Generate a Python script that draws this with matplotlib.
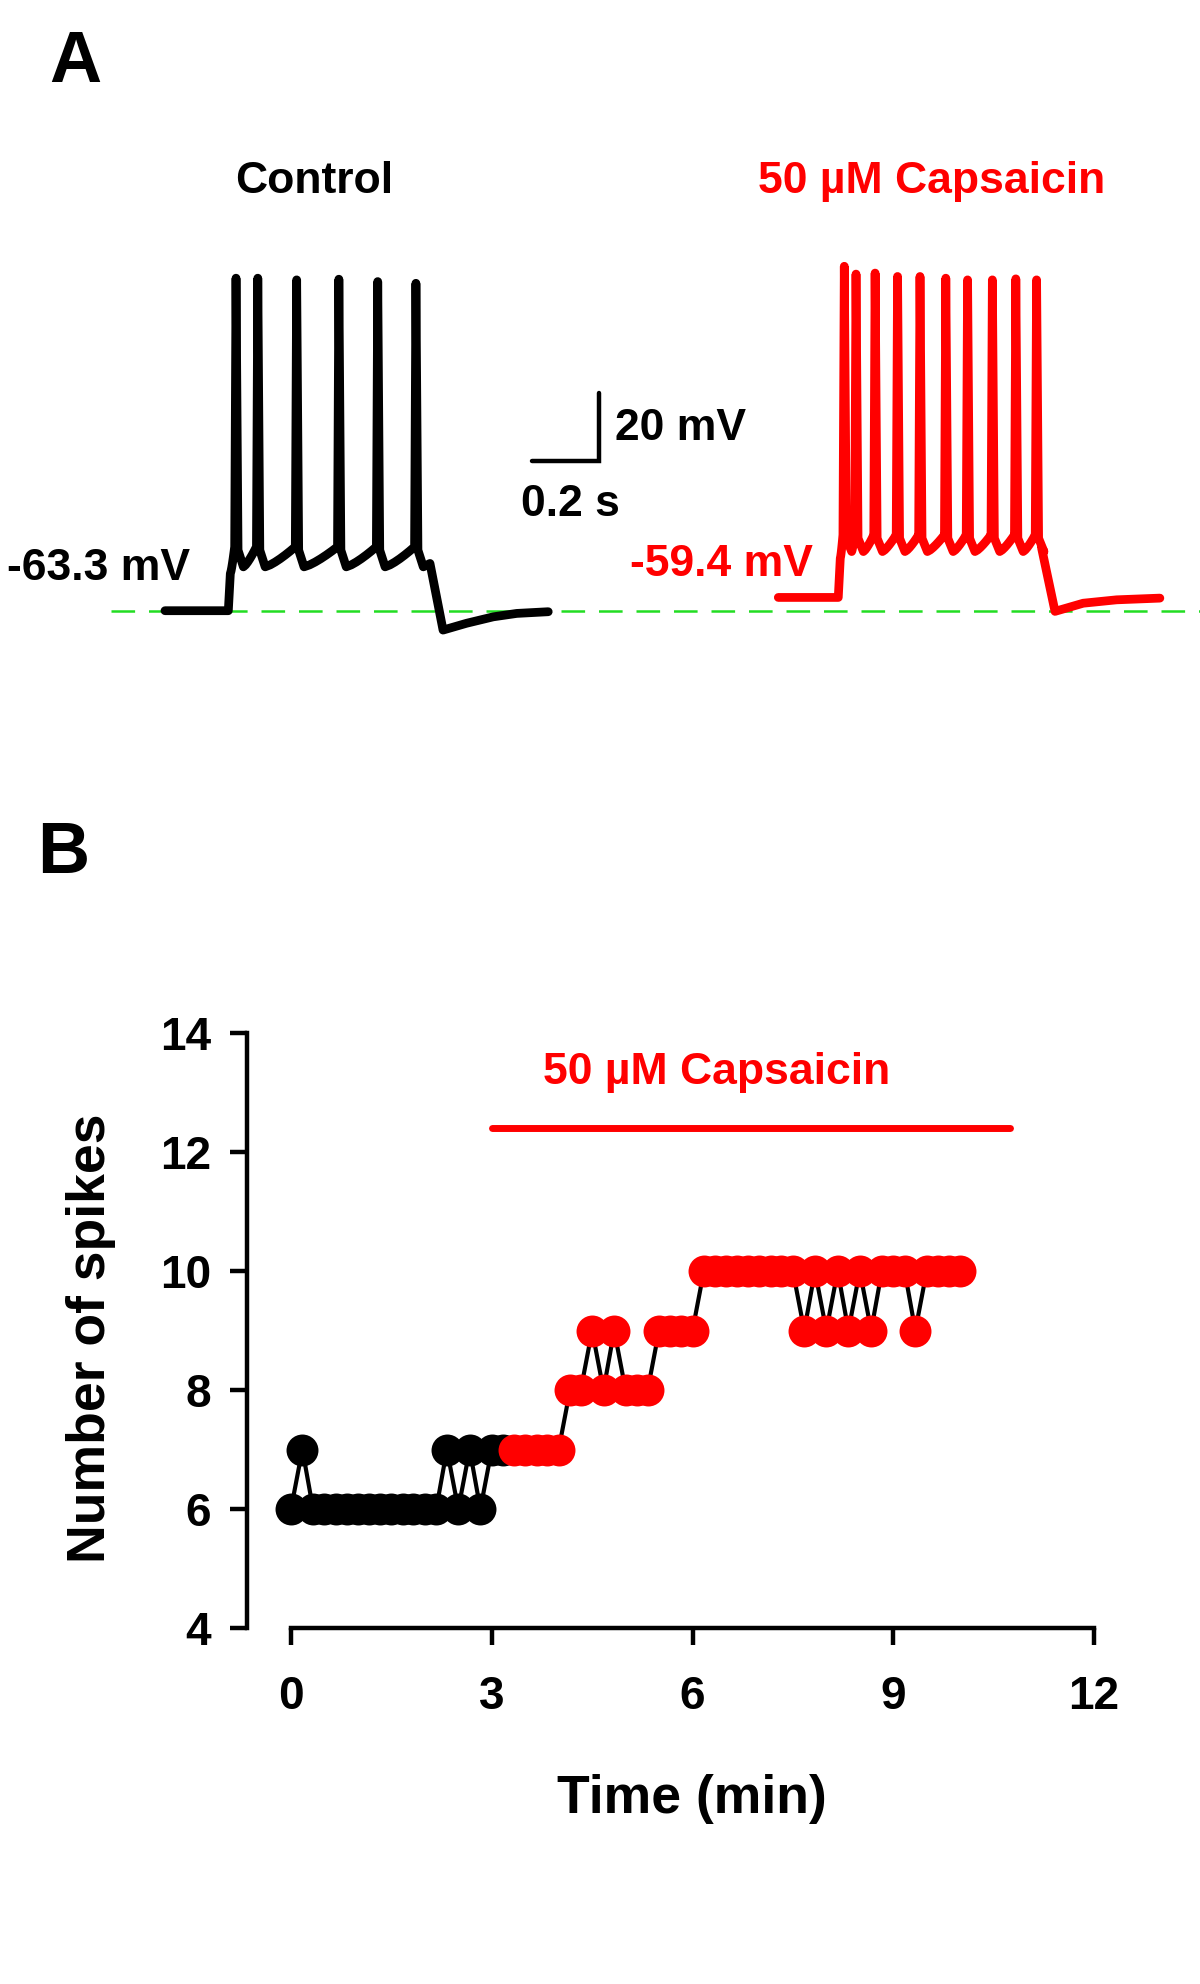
import numpy as np
import matplotlib
matplotlib.use("Agg")
import matplotlib.pyplot as plt

plt.rcParams['font.family'] = ['Liberation Sans', 'DejaVu Sans']
plt.rcParams['font.weight'] = 'bold'
plt.rcParams['lines.scale_dashes'] = False

## Datos panel A (trazas de voltaje, tiempo en s desde el inicio de cada traza, mV)
ctrl_rest = -63.3
ctrl_on, ctrl_off = 0.189, 0.791
ctrl_spike_t = [0.212, 0.277, 0.393, 0.519, 0.635, 0.749]
ctrl_spike_v = [34.5, 34.5, 34.0, 34.2, 33.5, 33.0]
ctrl_ahp, ctrl_top = -50.4, -44.5
ctrl_tail_t = [0.83, 0.90, 0.98, 1.05, 1.144]
ctrl_tail_v = [-69.0, -67.0, -65.1, -64.1, -63.6]

caps_rest = -59.4
caps_on, caps_off = 0.179, 0.786
caps_spike_t = [0.197, 0.232, 0.289, 0.356, 0.423, 0.500, 0.565, 0.639, 0.709, 0.771]
caps_spike_v = [38.0, 35.7, 36.0, 35.0, 35.0, 34.5, 34.0, 34.0, 34.3, 34.0]
caps_ahp, caps_top = -45.9, -41.0
caps_tail_t = [0.826, 0.91, 1.01, 1.139]
caps_tail_v = [-63.5, -61.1, -60.1, -59.6]

## Datos panel B (numero de spikes vs tiempo)
ctrl_time = [0, 0.17, 0.33, 0.5, 0.67, 0.83, 1.0, 1.17, 1.33, 1.5,
             1.67, 1.83, 2.0, 2.17, 2.33, 2.5, 2.67, 2.83, 3.0, 3.17]
ctrl_spikes = [6, 7, 6, 6, 6, 6, 6, 6, 6, 6,
               6, 6, 6, 6, 7, 6, 7, 6, 7, 7]
caps_time = [3.33, 3.5, 3.67, 3.83, 4.0, 4.17, 4.33, 4.5, 4.67, 4.83,
             5.0, 5.17, 5.33, 5.5, 5.67, 5.83, 6.0, 6.17, 6.33, 6.5,
             6.67, 6.83, 7.0, 7.17, 7.33, 7.5, 7.67, 7.83, 8.0, 8.17,
             8.33, 8.5, 8.67, 8.83, 9.0, 9.17, 9.33, 9.5, 9.67, 9.83, 10.0]
caps_spikes = [7, 7, 7, 7, 7, 8, 8, 9, 8, 9,
               8, 8, 8, 9, 9, 9, 9, 10, 10, 10,
               10, 10, 10, 10, 10, 10, 9, 10, 9, 10,
               9, 10, 9, 10, 10, 10, 9, 10, 10, 10, 10]
drug_bar = [3.0, 10.75]
drug_bar_y = 12.4
x_ticks = [0, 3, 6, 9, 12]
y_ticks = [4, 6, 8, 10, 12, 14]

W, H = 1200, 1984


def fx(px):
    return px / W


def fy(py):
    return 1 - py / H


def build_trace(rest, t_on, t_off, spikes, peaks, ahp, top, tail_t, tail_v):
    ts = [0.0, t_on, t_on + 0.006]
    vs = [rest, rest, ahp - 2]
    prev_t, prev_v = t_on + 0.006, ahp - 2
    for s, p in zip(spikes, peaks):
        # rampa lenta hasta el umbral
        if s - 0.004 > prev_t:
            seg = np.linspace(prev_t, s - 0.004, 7)[1:]
            frac = (seg - prev_t) / (s - 0.004 - prev_t)
            ts.extend(seg)
            vs.extend(prev_v + (top - prev_v) * frac ** 1.3)
        ts += [s, s + 0.006, s + 0.022]
        vs += [p, top - 1, ahp]
        prev_t, prev_v = s + 0.022, ahp
    ts += [t_off]
    vs += [ahp + 1]
    ts += list(tail_t)
    vs += list(tail_v)
    return np.array(ts), np.array(vs)


fig = plt.figure(figsize=(12, 19.84), dpi=100)

# Panel A: 335 px/s, 3.4 px/mV, -63.3 mV en y=610.7 px
px_s, px_mv, y_ref = 335.0, 3.4, 610.7
ax_a = fig.add_axes([0, fy(760), 1, 760 / H])
ax_a.set_xlim(0, W / px_s)
ax_a.set_ylim(ctrl_rest - (760 - y_ref) / px_mv, ctrl_rest + y_ref / px_mv)
ax_a.axis('off')

ax_a.plot([111 / px_s, W / px_s], [ctrl_rest, ctrl_rest], color='#22dd22',
          lw=1.8, dashes=(17, 10), zorder=1)

t, v = build_trace(ctrl_rest, ctrl_on, ctrl_off, ctrl_spike_t, ctrl_spike_v,
                   ctrl_ahp, ctrl_top, ctrl_tail_t, ctrl_tail_v)
ax_a.plot(165 / px_s + t, v, color='black', lw=6.3, solid_joinstyle='round',
          solid_capstyle='round', zorder=2)

t, v = build_trace(caps_rest, caps_on, caps_off, caps_spike_t, caps_spike_v,
                   caps_ahp, caps_top, caps_tail_t, caps_tail_v)
ax_a.plot(778.3 / px_s + t, v, color='red', lw=6.3, solid_joinstyle='round',
          solid_capstyle='round', zorder=2)

# barra de escala
sb_t = 599 / px_s
sb_v = ctrl_rest + (y_ref - 461) / px_mv
ax_a.plot([sb_t - 0.2, sb_t, sb_t], [sb_v, sb_v, sb_v + 20], color='black',
          lw=3.2, solid_capstyle='round', solid_joinstyle='miter')

fig.text(fx(49), fy(82), 'A', fontsize=52, ha='left', va='baseline')
fig.text(fx(314), fy(193), 'Control', fontsize=32, ha='center', va='baseline')
fig.text(fx(932), fy(193), '50 µM Capsaicin', fontsize=32, ha='center',
         va='baseline', color='red')
fig.text(fx(190), fy(580), '-63.3 mV', fontsize=32, ha='right', va='baseline')
fig.text(fx(813), fy(576), '-59.4 mV', fontsize=32, ha='right', va='baseline',
         color='red')
fig.text(fx(615), fy(440), '20 mV', fontsize=32, ha='left', va='baseline')
fig.text(fx(570), fy(516), '0.2 s', fontsize=32, ha='center', va='baseline')

# Panel B
px_min = (1094 - 291) / 12.0
ax_b = fig.add_axes([fx(247), fy(1628), fx(1114) - fx(247), (1628 - 1033) / H])
ax_b.set_xlim((247 - 291) / px_min, (1114 - 291) / px_min)
ax_b.set_ylim(4, 14)
for side in ['top', 'right']:
    ax_b.spines[side].set_visible(False)
ax_b.spines['left'].set_bounds(4, 14)
ax_b.spines['bottom'].set_bounds(0, 12)
ax_b.spines['left'].set_linewidth(3.2)
ax_b.spines['bottom'].set_linewidth(3.2)
ax_b.set_xticks(x_ticks)
ax_b.set_yticks(y_ticks)
ax_b.tick_params(direction='out', length=12, width=3.2, labelsize=33)
ax_b.tick_params(axis='x', pad=22)
ax_b.tick_params(axis='y', pad=14)

ax_b.plot(ctrl_time + caps_time, ctrl_spikes + caps_spikes, color='black',
          lw=3, zorder=2, clip_on=False)
ax_b.plot(ctrl_time, ctrl_spikes, 'o', ms=23, color='black', mec='none',
          zorder=3, clip_on=False)
ax_b.plot(caps_time, caps_spikes, 'o', ms=23, color='red', mec='none',
          zorder=4, clip_on=False)
ax_b.plot(drug_bar, [drug_bar_y, drug_bar_y], color='red', lw=5,
          solid_capstyle='round', clip_on=False)

fig.text(fx(37), fy(873), 'B', fontsize=52, ha='left', va='baseline')
fig.text(fx(717), fy(1084), '50 µM Capsaicin', fontsize=32, ha='center',
         va='baseline', color='red')
fig.text(fx(91), fy(1338), 'Number of spikes', fontsize=38.5, rotation=90,
         ha='center', va='center')
fig.text(fx(692), fy(1813), 'Time (min)', fontsize=38.5, ha='center',
         va='baseline')

fig.savefig('out.png', dpi=100)
